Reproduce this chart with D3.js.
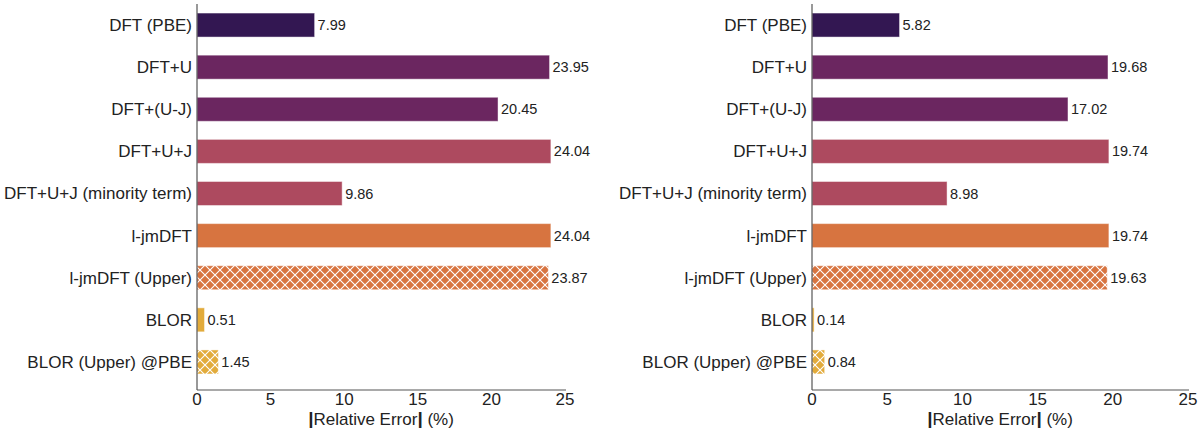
<!DOCTYPE html>
<html>
<head>
<meta charset="utf-8">
<script src="https://cdn.jsdelivr.net/npm/d3@7"></script>
<style>
  body { margin: 0; background: #fff; }
  svg { font-family: "Liberation Sans", Arial, Helvetica, sans-serif; }
</style>
</head>
<body>
<svg id="chart" width="1201" height="428"></svg>
<script>
const methods = ['DFT (PBE)', 'DFT+U', 'DFT+(U-J)', 'DFT+U+J', 'DFT+U+J (minority term)',
  'l-jmDFT', 'l-jmDFT (Upper)', 'BLOR', 'BLOR (Upper) @PBE'];
const leftErrors = [7.99, 23.95, 20.45, 24.04, 9.86, 24.04, 23.87, 0.51, 1.45];
const rightErrors = [5.82, 19.68, 17.02, 19.74, 8.98, 19.74, 19.63, 0.14, 0.84];
const barColors = ['#331752', '#6b2660', '#6b2660', '#ad4a5f', '#ad4a5f',
  '#d77440', '#d77440', '#e2ab3b', '#e2ab3b'];
const hatched = [false, false, false, false, false, false, true, false, true];
const xTicks = [0, 5, 10, 15, 20, 25];

const svg = d3.select('#chart');
const defs = svg.append('defs');

// crosshatch patterns, one per colour
barColors.forEach((c, i) => {
  if (!hatched[i]) return;
  const p = defs.append('pattern')
    .attr('id', 'hatch' + i)
    .attr('patternUnits', 'userSpaceOnUse')
    .attr('width', 10).attr('height', 10);
  p.append('rect').attr('width', 10).attr('height', 10).attr('fill', c);
  p.append('path')
    .attr('d', 'M-1,-1 L11,11 M11,-1 L-1,11')
    .attr('stroke', '#fff').attr('stroke-width', 1.1);
});

function drawPanel(values, x0, x1) {
  const top = 4, bottom = 390;
  const x = d3.scaleLinear().domain([0, 25]).range([x0, x1]);
  const y = d3.scaleBand().domain(methods).range([4, 383])
    .paddingInner(0.43).paddingOuter(0.215);

  const g = svg.append('g');

  g.selectAll('rect.bar')
    .data(values)
    .enter()
    .append('rect')
    .attr('class', 'bar')
    .attr('x', x(0))
    .attr('y', (d, i) => y(methods[i]))
    .attr('width', d => x(d) - x(0))
    .attr('height', y.bandwidth())
    .attr('fill', (d, i) => hatched[i] ? 'url(#hatch' + i + ')' : barColors[i])
    .attr('stroke', 'rgba(255,255,255,0.45)')
    .attr('stroke-width', 1);

  g.selectAll('text.val')
    .data(values)
    .enter()
    .append('text')
    .attr('class', 'val')
    .attr('x', d => x(d) + 3)
    .attr('y', (d, i) => y(methods[i]) + y.bandwidth() / 2)
    .attr('dy', '0.35em')
    .style('font-size', '14.5px')
    .style('fill', '#222')
    .text(d => d.toFixed(2));

  // category labels
  g.selectAll('text.cat')
    .data(methods)
    .enter()
    .append('text')
    .attr('class', 'cat')
    .attr('x', x0 - 5)
    .attr('y', d => y(d) + y.bandwidth() / 2)
    .attr('dy', '0.35em')
    .attr('text-anchor', 'end')
    .style('font-size', '17px')
    .style('fill', '#222')
    .text(d => d);

  // spines
  g.append('line').attr('x1', x0).attr('x2', x0).attr('y1', top).attr('y2', bottom)
    .attr('stroke', '#555').attr('stroke-width', 1.2);
  g.append('line').attr('x1', x0).attr('x2', x1 + 1).attr('y1', bottom).attr('y2', bottom)
    .attr('stroke', '#555').attr('stroke-width', 1.2);

  g.selectAll('text.tick')
    .data(xTicks)
    .enter()
    .append('text')
    .attr('class', 'tick')
    .attr('x', d => x(d))
    .attr('y', bottom + 15)
    .attr('text-anchor', 'middle')
    .style('font-size', '17px')
    .style('fill', '#222')
    .text(d => d);

  const title = g.append('text')
    .attr('x', (x0 + x1) / 2)
    .attr('y', 425)
    .attr('text-anchor', 'middle')
    .style('font-size', '17px')
    .style('fill', '#222');
  title.append('tspan').style('font-size', '19px').style('font-weight', 'bold').text('|');
  title.append('tspan').text('Relative Error');
  title.append('tspan').style('font-size', '19px').style('font-weight', 'bold').text('|');
  title.append('tspan').text('\u00a0(%)');
}

drawPanel(leftErrors, 197, 565);
drawPanel(rightErrors, 812, 1188);
</script>
</body>
</html>
